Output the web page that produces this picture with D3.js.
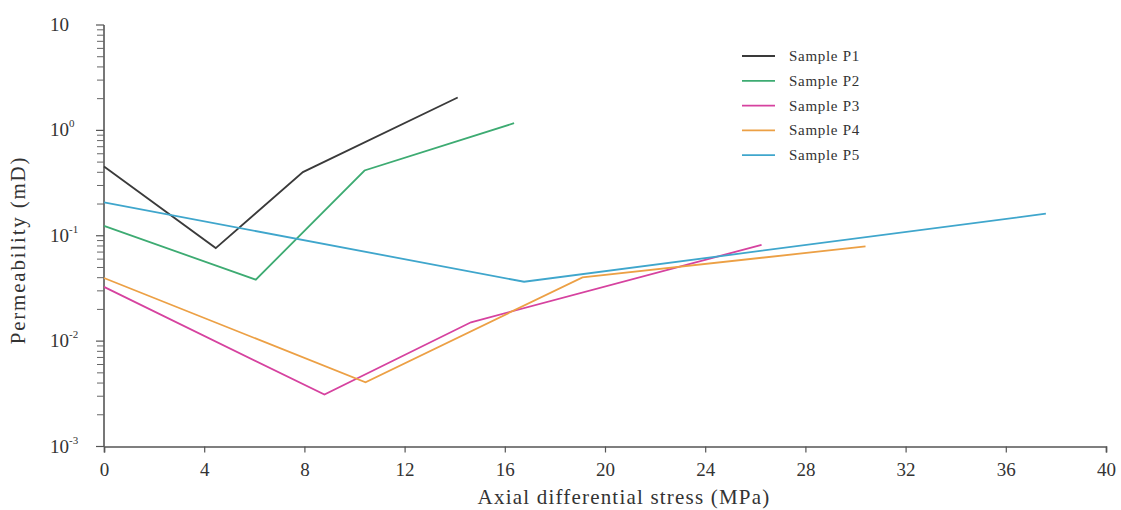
<!DOCTYPE html>
<html>
<head>
<meta charset="utf-8">
<script src="https://cdn.jsdelivr.net/npm/d3@7"></script>
<style>
  body { margin: 0; background: #fff; }
  text { font-family: "Liberation Serif", "Times New Roman", serif; fill: #333; }
</style>
</head>
<body>
<div id="chart"></div>
<script>
const width = 1121, height = 510;
const margin = {top: 25, right: 12, bottom: 63, left: 104};

// stress (MPa) and permeability (mD) for each sample
const seriesNames = ["Sample P1", "Sample P2", "Sample P3", "Sample P4", "Sample P5"];
const colors = ["#3a3a3a", "#3dab72", "#d6429f", "#eca045", "#3fa6cc"];
const p1Stress = [0, 4.46, 7.94, 14.12];
const p1Perm   = [0.454, 0.0764, 0.402, 2.05];
const p2Stress = [0, 6.06, 10.4, 16.37];
const p2Perm   = [0.124, 0.0383, 0.416, 1.17];
const p3Stress = [0, 8.8, 14.65, 26.25];
const p3Perm   = [0.0327, 0.00311, 0.0151, 0.082];
const p4Stress = [0, 10.44, 19.1, 30.4];
const p4Perm   = [0.0397, 0.00407, 0.0403, 0.0792];
const p5Stress = [0, 16.77, 37.6];
const p5Perm   = [0.207, 0.0366, 0.162];
const xTicks = [0, 4, 8, 12, 16, 20, 24, 28, 32, 36, 40];
const yExponents = [-3, -2, -1, 0, 1];

const allStress = [p1Stress, p2Stress, p3Stress, p4Stress, p5Stress];
const allPerm = [p1Perm, p2Perm, p3Perm, p4Perm, p5Perm];

let svg = d3.select("#chart")
  .append("svg")
    .attr("width", width)
    .attr("height", height);

let x = d3.scaleLinear()
  .domain([0, 40])
  .range([margin.left, width - margin.right - 3]);

let y = d3.scaleLog()
  .domain([1e-3, 10])
  .range([height - margin.bottom - 0.5, margin.top]);

// x axis
let xAxis = svg.append("g")
  .attr("transform", "translate(0," + y(1e-3) + ")")
  .call(d3.axisBottom(x).tickValues(xTicks).tickSize(6).tickPadding(10).tickFormat(d3.format("d")));
xAxis.select(".domain").attr("stroke", "#555").attr("stroke-width", 1.6);
xAxis.selectAll(".tick line").attr("stroke", "#555").attr("stroke-width", 1.2);
xAxis.selectAll(".tick text")
  .attr("font-family", "Liberation Serif")
  .attr("font-size", "19px")
  .attr("fill", "#333");

// y axis, minor ticks at 2..9 of every decade
let minor = [];
for (let e = -3; e < 1; e++) {
  for (let m = 2; m <= 9; m++) minor.push(m * Math.pow(10, e));
}
let yAxis = svg.append("g")
  .attr("transform", "translate(" + x(0) + ",0)");
yAxis.append("line")
  .attr("x1", 0).attr("x2", 0)
  .attr("y1", y(10)).attr("y2", y(1e-3))
  .attr("stroke", "#555").attr("stroke-width", 1.6);
yAxis.selectAll(".minor")
  .data(minor)
  .enter().append("line")
    .attr("class", "minor")
    .attr("x1", -7).attr("x2", 0)
    .attr("y1", d => y(d)).attr("y2", d => y(d))
    .attr("stroke", "#666").attr("stroke-width", 1);
yAxis.selectAll(".major")
  .data(yExponents)
  .enter().append("line")
    .attr("class", "major")
    .attr("x1", -8).attr("x2", 0)
    .attr("y1", d => y(Math.pow(10, d))).attr("y2", d => y(Math.pow(10, d)))
    .attr("stroke", "#555").attr("stroke-width", 1.2);

let yLabels = svg.selectAll(".ylab")
  .data(yExponents)
  .enter().append("text")
    .attr("class", "ylab")
    .attr("x", 50)
    .attr("y", d => y(Math.pow(10, d)) + 6)
    .attr("font-size", "19px");
yLabels.append("tspan").text("10");
yLabels.filter(d => d !== 1).append("tspan")
  .attr("dy", -9)
  .attr("font-size", "11px")
  .text(d => d);

// lines
let line = d3.line()
  .x(d => x(d[0]))
  .y(d => y(d[1]));

seriesNames.forEach(function(name, i) {
  let pts = allStress[i].map((s, j) => [s, allPerm[i][j]]);
  svg.append("path")
    .datum(pts)
    .attr("fill", "none")
    .attr("stroke", colors[i])
    .attr("stroke-width", 1.8)
    .attr("stroke-linejoin", "miter")
    .attr("d", line);
});

// legend
let legend = svg.selectAll(".legend")
  .data(seriesNames)
  .enter().append("g")
    .attr("class", "legend")
    .attr("transform", (d, i) => "translate(742," + (56 + i * 24.8) + ")");
legend.append("line")
  .attr("x1", 0).attr("x2", 33)
  .attr("stroke", (d, i) => colors[i])
  .attr("stroke-width", 1.8);
legend.append("text")
  .attr("x", 47)
  .attr("y", 5)
  .attr("font-size", "15px")
  .attr("letter-spacing", "0.7px")
  .text(d => d);

// axis titles
svg.append("text")
  .attr("x", 624)
  .attr("y", 504)
  .attr("text-anchor", "middle")
  .attr("font-size", "21px")
  .attr("letter-spacing", "1.2px")
  .text("Axial differential stress (MPa)");

svg.append("text")
  .attr("transform", "translate(25,250) rotate(-90)")
  .attr("text-anchor", "middle")
  .attr("font-size", "21px")
  .attr("letter-spacing", "1.8px")
  .text("Permeability (mD)");
</script>
</body>
</html>
